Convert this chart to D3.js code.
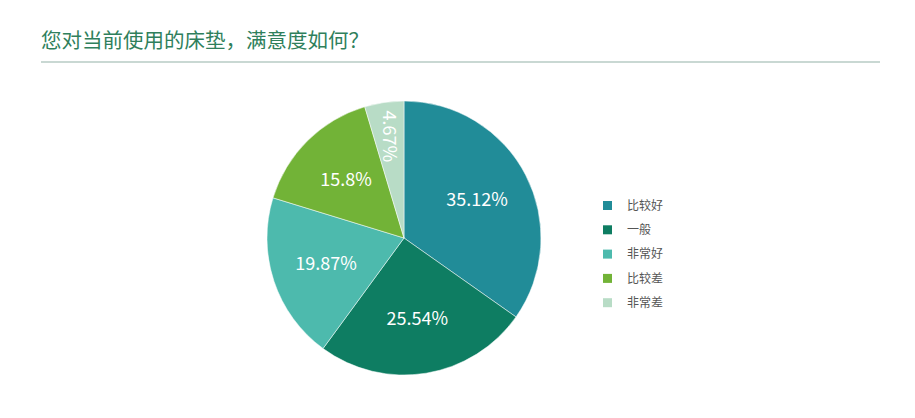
<!DOCTYPE html>
<html>
<head>
<meta charset="utf-8">
<script src="https://cdn.jsdelivr.net/npm/d3@7"></script>
<style>
  body { margin: 0; background: #fff; }
  text { font-family: "Noto Sans CJK SC", "Noto Sans", sans-serif; }
</style>
</head>
<body>
<script>
var categories = ["比较好", "一般", "非常好", "比较差", "非常差"];
var values = [35.12, 25.54, 19.87, 15.8, 4.67];
var colors = ["#218c98", "#0e7d62", "#4dbaad", "#72b337", "#b8dcc6"];
var title = "您对当前使用的床垫，满意度如何？";

var width = 915,
    height = 418;

var svg = d3.select("body").append("svg")
    .attr("width", width)
    .attr("height", height);

svg.append("text")
    .attr("x", 41)
    .attr("y", 48)
    .attr("fill", "#2f7f5c")
    .attr("font-size", 20.5)
    .text(title);

svg.append("line")
    .attr("x1", 41).attr("x2", 880)
    .attr("y1", 62).attr("y2", 62)
    .attr("stroke", "#c9d8d3")
    .attr("stroke-width", 2);

var cx = 404, cy = 238, r = 137;

var pie = d3.pie().sort(null).value(function (d) { return d; });
var arcs = pie(values);

var arc = d3.arc().innerRadius(0).outerRadius(r);

var g = svg.append("g")
    .attr("transform", "translate(" + cx + "," + cy + ")");

g.selectAll("path")
    .data(arcs)
    .enter().append("path")
    .attr("d", arc)
    .attr("fill", function (d, i) { return colors[i]; })
    .attr("stroke", "#fff")
    .attr("stroke-width", 0.5);

var labelArc = d3.arc().innerRadius(r * 0.6).outerRadius(r * 0.6);
var smallArc = d3.arc().innerRadius(r * 0.75).outerRadius(r * 0.75);

g.selectAll(".lbl")
    .data(arcs)
    .enter().append("text")
    .attr("class", "lbl")
    .attr("transform", function (d) {
        var small = (d.endAngle - d.startAngle) < 0.4;
        var c = small ? smallArc.centroid(d) : labelArc.centroid(d);
        return "translate(" + c[0] + "," + c[1] + ")" + (small ? " rotate(90)" : "");
    })
    .attr("text-anchor", "middle")
    .attr("dy", "0.35em")
    .attr("fill", "#fff")
    .attr("font-size", 18)
    .text(function (d) { return d.data + "%"; });

var legend = svg.append("g")
    .attr("transform", "translate(603,205)");

var item = legend.selectAll("g")
    .data(categories)
    .enter().append("g")
    .attr("transform", function (d, i) { return "translate(0," + (i * 24.3) + ")"; });

item.append("rect")
    .attr("x", 0).attr("y", -4)
    .attr("width", 9).attr("height", 9)
    .attr("fill", function (d, i) { return colors[i]; });

item.append("text")
    .attr("x", 24)
    .attr("y", 0.5)
    .attr("dy", "0.35em")
    .attr("fill", "#555")
    .attr("font-size", 12)
    .text(function (d) { return d; });
</script>
</body>
</html>
